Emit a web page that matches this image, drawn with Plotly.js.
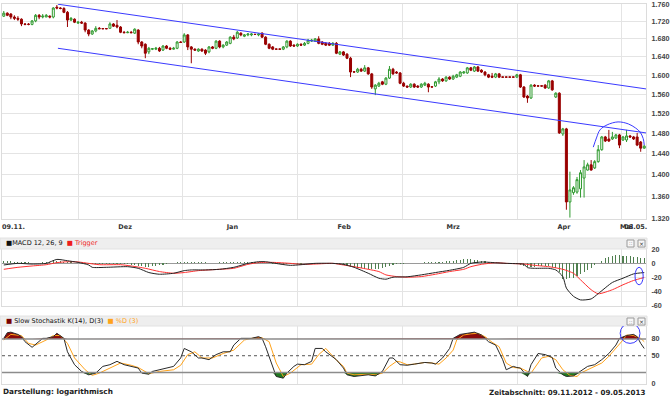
<!DOCTYPE html>
<html>
<head>
<meta charset="utf-8">
<script src="https://cdn.plot.ly/plotly-3.0.1.min.js"></script>
<style>
html,body{margin:0;padding:0;background:#ffffff;}
#chart{width:670px;height:396px;}
</style>
</head>
<body>
<div id="chart"></div>
<script>
// ---------- Kursdaten: ein Wert je Kalendertag, Index 0 = 09.11.2012 ----------
const openP = [
1.732,1.739,1.737,1.730,1.727,1.725,1.714,1.7135,1.713,1.721,
1.734,1.730,1.730,1.732,1.730,1.753,1.751,1.750,1.741,1.723,
1.725,1.716,1.718,1.716,1.700,1.691,1.698,1.704,1.7035,1.7035,
1.704,1.714,1.711,1.707,1.695,1.694,1.695,1.693,1.700,1.673,
1.668,1.651,1.657,1.657,1.659,1.655,1.664,1.659,1.657,1.659,
1.673,1.673,1.689,1.662,1.657,1.653,1.657,1.655,1.651,1.662,
1.659,1.675,1.662,1.666,1.670,1.684,1.682,1.693,1.686,1.689,
1.689,1.6905,1.689,1.693,1.684,1.668,1.662,1.6575,1.6575,1.657,
1.662,1.675,1.666,1.664,1.668,1.666,1.670,1.675,1.675,1.680,
1.673,1.670,1.670,1.666,1.670,1.646,1.651,1.646,1.637,1.6075,
1.607,1.613,1.609,1.616,1.603,1.571,1.577,1.586,1.581,1.594,
1.613,1.607,1.605,1.583,1.577,1.575,1.581,1.577,1.575,1.579,
1.581,1.5755,1.577,1.586,1.592,1.588,1.596,1.592,1.596,1.598,
1.605,1.605,1.616,1.609,1.618,1.611,1.607,1.601,1.598,1.596,
1.603,1.5965,1.5965,1.5965,1.5965,1.596,1.601,1.575,1.556,1.552,
1.579,1.5775,1.5775,1.579,1.573,1.588,1.554,1.562,1.479,1.489,
1.350,1.367,1.368,1.374,1.394,1.409,1.419,1.413,1.425,1.448,
1.473,1.469,1.469,1.471,1.477,1.467,1.467,1.475,1.473,1.473,
1.463,1.451];
const highP = [
1.744,1.741,1.739,1.734,1.732,1.727,1.716,1.716,1.723,1.737,
1.737,1.737,1.737,1.734,1.753,1.758,1.753,1.753,1.744,1.730,
1.727,1.721,1.721,1.718,1.702,1.700,1.709,1.707,1.704,1.704,
1.718,1.716,1.723,1.709,1.698,1.698,1.698,1.704,1.702,1.675,
1.670,1.662,1.659,1.662,1.662,1.666,1.666,1.662,1.662,1.675,
1.675,1.693,1.691,1.664,1.659,1.659,1.659,1.657,1.664,1.664,
1.677,1.677,1.668,1.675,1.686,1.689,1.698,1.695,1.691,1.693,
1.693,1.691,1.693,1.695,1.686,1.670,1.664,1.658,1.658,1.664,
1.677,1.677,1.668,1.670,1.670,1.673,1.680,1.680,1.682,1.686,
1.675,1.673,1.673,1.673,1.673,1.653,1.653,1.648,1.640,1.608,
1.616,1.616,1.622,1.618,1.605,1.581,1.586,1.588,1.596,1.620,
1.616,1.609,1.607,1.586,1.578,1.583,1.583,1.579,1.583,1.586,
1.583,1.576,1.588,1.596,1.594,1.598,1.598,1.601,1.603,1.609,
1.609,1.618,1.618,1.620,1.620,1.613,1.609,1.603,1.605,1.605,
1.605,1.597,1.597,1.597,1.597,1.603,1.603,1.577,1.558,1.581,
1.581,1.578,1.578,1.581,1.590,1.590,1.564,1.564,1.491,1.491,
1.406,1.379,1.396,1.409,1.428,1.423,1.428,1.428,1.457,1.475,
1.475,1.487,1.483,1.479,1.479,1.475,1.487,1.477,1.475,1.481,
1.465,1.457];
const lowP = [
1.730,1.732,1.725,1.723,1.721,1.709,1.711,1.711,1.711,1.718,
1.725,1.727,1.730,1.727,1.727,1.748,1.748,1.739,1.707,1.721,
1.716,1.714,1.714,1.695,1.686,1.689,1.695,1.702,1.702,1.702,
1.704,1.707,1.704,1.693,1.693,1.693,1.693,1.691,1.668,1.659,
1.637,1.646,1.655,1.655,1.651,1.653,1.657,1.655,1.656,1.657,
1.671,1.671,1.655,1.626,1.653,1.651,1.651,1.644,1.648,1.657,
1.657,1.659,1.659,1.664,1.668,1.677,1.680,1.686,1.684,1.686,
1.686,1.689,1.686,1.682,1.666,1.657,1.655,1.656,1.656,1.655,
1.659,1.662,1.662,1.662,1.664,1.664,1.668,1.673,1.673,1.668,
1.666,1.664,1.664,1.664,1.646,1.644,1.642,1.635,1.596,1.606,
1.605,1.607,1.607,1.601,1.571,1.558,1.575,1.579,1.579,1.592,
1.601,1.603,1.581,1.575,1.573,1.573,1.573,1.573,1.573,1.577,
1.564,1.574,1.575,1.581,1.586,1.586,1.590,1.590,1.594,1.596,
1.603,1.603,1.609,1.607,1.607,1.605,1.598,1.594,1.594,1.594,
1.594,1.595,1.595,1.595,1.595,1.594,1.573,1.552,1.542,1.550,
1.575,1.576,1.576,1.571,1.571,1.567,1.552,1.479,1.475,1.336,
1.322,1.363,1.365,1.358,1.358,1.408,1.408,1.411,1.423,1.446,
1.463,1.463,1.467,1.469,1.451,1.465,1.463,1.471,1.467,1.455,
1.444,1.450];
const closeP = [
1.739,1.734,1.730,1.727,1.725,1.714,1.713,1.713,1.721,1.734,
1.730,1.732,1.734,1.730,1.751,1.751,1.750,1.741,1.723,1.727,
1.718,1.718,1.716,1.700,1.691,1.698,1.704,1.703,1.703,1.703,
1.714,1.709,1.707,1.695,1.694,1.695,1.694,1.702,1.673,1.664,
1.648,1.659,1.658,1.659,1.653,1.664,1.659,1.657,1.659,1.673,
1.672,1.689,1.662,1.657,1.655,1.657,1.653,1.648,1.662,1.659,
1.675,1.662,1.666,1.673,1.684,1.680,1.695,1.689,1.689,1.691,
1.691,1.690,1.691,1.684,1.668,1.659,1.657,1.657,1.657,1.662,
1.675,1.664,1.664,1.668,1.666,1.670,1.677,1.677,1.680,1.670,
1.668,1.666,1.666,1.670,1.648,1.651,1.644,1.637,1.607,1.607,
1.613,1.609,1.616,1.603,1.575,1.579,1.583,1.581,1.594,1.613,
1.603,1.605,1.583,1.577,1.575,1.581,1.575,1.575,1.581,1.583,
1.575,1.575,1.586,1.592,1.588,1.596,1.592,1.598,1.601,1.607,
1.607,1.616,1.611,1.618,1.609,1.607,1.601,1.596,1.596,1.603,
1.596,1.596,1.596,1.596,1.596,1.601,1.575,1.554,1.552,1.579,
1.577,1.577,1.577,1.573,1.588,1.569,1.562,1.481,1.489,1.350,
1.372,1.376,1.391,1.404,1.415,1.419,1.409,1.425,1.448,1.473,
1.465,1.465,1.473,1.477,1.457,1.473,1.475,1.473,1.469,1.457,
1.451,1.455];
const dayIdx = closeP.map((_, i) => i);

// ---------- Trendkanal und Markierung ----------
const channelX = [15.3, 181.5];
const channelUpper = [1.760, 1.571];
const channelLower = [1.659, 1.481];
const arcX = [166.6, 167.5, 168.5, 170.5, 173.6, 176.5, 178.5, 179.8, 180.7, 181.0];
const arcY = [1.453, 1.471, 1.487, 1.497, 1.503, 1.499, 1.491, 1.483, 1.470, 1.457];

// ---------- MACD 12, 26, 9 ----------
const macdT = [0,4,8,12,15,18,21,24,25,29,35,38,41,44,48,51,53,57,61,65,69,72,74,78,81,84,88,93,96,99,103,106,108,110,114,118,122,126,130,132,135,139,142,147,148,150,154,156,158,159,161,163,166,168,172,175,178,181];
const macdV = [-2.3,0,-1,0,5.6,3.7,1.4,-2.3,-5.6,-5.6,-4.7,-7,-13,-15.4,-14,-10.3,-9.3,-9.3,-8.4,-5.6,0,2.3,2.3,-1,-2.8,-1.9,0,0,-1.4,-5.6,-14,-21,-22.4,-19.6,-19,-16.3,-13,-9.8,-5.6,0,1.9,0.9,0,-1.4,-6,-7,-7,-9.3,-18.7,-35,-46.6,-51.7,-50.3,-42.8,-27,-21,-14.9,-13];
const trigT = [0,4,8,12,15,18,21,24,27,33,36,40,44,48,51,55,61,65,69,72,76,81,84,88,93,96,99,103,106,108,111,114,118,122,126,130,132,135,139,142,147,150,154,158,161,163,166,168,172,175,178,181];
const trigV = [-8.4,-5.6,-3.7,-1.9,1,2.3,2,0,-1.9,-1.9,-3.7,-7,-11.6,-14,-13,-10.3,-8.4,-7,-1.4,1,1.4,0,-1.4,-1,0,-2.3,-4.7,-8.4,-11.6,-16.3,-18.7,-19.6,-18.7,-15.4,-11.6,-8.4,-4.7,-1.4,0.9,0,-1,-2.8,-4.7,-8.4,-14,-23.3,-37.3,-43,-37.3,-30.3,-24.2,-20];
const histV = [
3,3,3,2.5,2, 2,1.5,1.5,1,1, 1,1.5,2,2.5,3, 3.5,3,2.5,2,1.5,
1,0.5,0,-0.5,-1, -1.5,-1.5,-1.5,-1,-1, -1,-1,-1,-1,-1, -1.5,-2,-3,-3.5,-4,
-4.5,-4.5,-4,-3.5,-3, -2,-1,0,1,1.5, 2,2,2,2,1.5, 1.5,1.5,1.5,1,1,
1,1.5,1.5,2,2, 2,2.5,2.5,2.5,2, 2,2,1.5,1,0.5, 0,-0.5,-1,-1.5,-1.5,
-1.5,-1.5,-1,-1,-0.5, 0,0.5,0.5,1,1, 0.5,0.5,0,0,-0.5, -1,-2,-3,-4,-5,
-6,-7,-7.5,-8,-8.5, -8.5,-8,-7,-5.5,-4, -2.5,-1.5,-1,-0.5,0, 0.5,0.5,1,1,1.5,
1.5,1.5,2,2,2.5, 3,3.5,4,4.5,5, 5.5,5.5,5.5,5,4.5, 3.5,3,2,1.5,1,
0,0,-0.5,-0.5,-1, -1.5,-2.5,-4,-5,-5, -4.5,-4,-4,-4,-4, -5,-6,-12,-22,-22,
-21,-20,-18,-15,-12, -9,-6,-3,1,4, 7,9,10.5,11.5,11.5, 11,10.5,10,9.5,8.5,
8,7.5];
const macdEllipse = {x: [178.4, 180.7], y: [-30.3, -5.6]};

// ---------- Slow Stochastik K(14), D(3) ----------
const stochKT = [0,1,2,4,5,6,8,9,11,12,14,15,17,18,20,22,24,26,28,30,32,34,36,38,39,41,42,44,46,48,50,51,53,55,56,58,60,62,64,65,67,69,70,72,73,74,76,77,79,80,82,83,85,87,88,90,91,93,94,96,97,99,101,103,105,107,109,110,112,114,116,119,121,122,124,126,127,129,131,133,135,137,139,141,142,144,145,146,148,149,151,153,155,156,158,159,161,163,165,167,169,171,173,174,176,178,179,180,181];
const stochK = [81,91,92,88,84,75,65,70,81,81,84,90,81,57,34,22,16,19,31,34,40,34,31,28,19,17,22,25,27,31,46,63,57,46,46,43,52,57,57,69,81,81,81,84,81,66,31,13,10,19,31,35,34,40,63,63,57,48,43,28,16,13,15,16,14,22,46,46,34,33,35,38,37,35,46,63,81,88,90,92,87,75,69,43,25,31,29,28,13,34,54,52,47,28,16,13,14,22,31,34,43,54,69,81,86,88,84,72,63];
const stochDT = [0,2,5,7,9,12,14,16,18,20,23,25,27,30,33,36,38,41,44,48,50,52,54,56,59,62,65,68,70,73,75,77,79,81,84,87,89,91,93,94,96,97,99,101,103,105,107,109,111,112,114,116,119,121,123,125,127,128,130,132,134,136,138,140,142,144,146,148,149,152,154,156,158,160,162,163,165,167,169,171,173,175,176,178,180,181];
const stochD = [78,88,86,72,69,78,86,86,72,46,25,15,19,28,37,33,29,18,22,25,33,52,57,46,46,54,60,78,81,82,75,37,13,19,34,35,52,63,50,42,31,19,16,17,17,16,19,31,40,39,34,35,38,37,35,46,60,78,87,89,90,84,74,66,37,29,28,22,19,46,49,43,25,15,13,19,25,31,37,49,63,78,87,86,81,75];
const stochCircle = {x: [174.2, 179.8], y: [72, 108]};
const stochLevels = {high: 80, mid: 50, low: 20};

// ---------- Achsenbeschriftung ----------
const dateTickIdx = [2.75, 34.3, 64.6, 96.2, 127.0, 158.3, 176.0, 178.6];
const dateTickText = ['09.11.', 'Dez', 'Jan', 'Feb', 'Mrz', 'Apr', 'Mai', '08.05.'];
const gridIdx = [20.98, 50.4, 82.9, 112.6, 145.1, 174.5];
const priceTicks = [1.32, 1.36, 1.40, 1.44, 1.48, 1.52, 1.56, 1.60, 1.64, 1.68, 1.72, 1.76];
const priceTickText = ['1.320','1.360','1.400','1.440','1.480','1.520','1.560','1.600','1.640','1.680','1.720','1.760'];
const macdTicks = [20, 0, -20, -40, -60];
const macdTickText = ['20', '0', '-20', '-40', '-60'];
const stochTicks = [0, 50, 80];
const stochTickText = ['0', '50', '80'];

// ---------- Darstellung ----------
const FONT = 'DejaVu Sans';
const GRID = '#e4e4e4';
const BLUE = '#3a3aff';
const UP = '#2f9a2f';
const DOWN = '#990000';

const traces = [
  {type: 'candlestick', x: dayIdx, open: openP, high: highP, low: lowP, close: closeP,
   xaxis: 'x', yaxis: 'y', whiskerwidth: 0, hoverinfo: 'skip', showlegend: false,
   increasing: {line: {color: UP, width: 1}, fillcolor: '#ffffff'},
   decreasing: {line: {color: DOWN, width: 1}, fillcolor: DOWN}},
  {type: 'scatter', mode: 'lines', x: channelX, y: channelUpper, xaxis: 'x', yaxis: 'y',
   line: {color: BLUE, width: 1}, hoverinfo: 'skip'},
  {type: 'scatter', mode: 'lines', x: channelX, y: channelLower, xaxis: 'x', yaxis: 'y',
   line: {color: BLUE, width: 1}, hoverinfo: 'skip'},
  {type: 'scatter', mode: 'lines', x: arcX, y: arcY, xaxis: 'x', yaxis: 'y',
   line: {color: BLUE, width: 1, shape: 'spline'}, hoverinfo: 'skip'},

  {type: 'bar', x: dayIdx, y: histV, xaxis: 'x2', yaxis: 'y2', width: 0.3,
   marker: {color: '#4f7f4f', line: {width: 0}}, hoverinfo: 'skip'},
  {type: 'scatter', mode: 'lines', x: trigT, y: trigV, xaxis: 'x2', yaxis: 'y2',
   line: {color: '#ff3030', width: 1, shape: 'spline', smoothing: 0.6}, hoverinfo: 'skip'},
  {type: 'scatter', mode: 'lines', x: macdT, y: macdV, xaxis: 'x2', yaxis: 'y2',
   line: {color: '#222222', width: 1, shape: 'spline', smoothing: 0.6}, hoverinfo: 'skip'},

  {type: 'scatter', mode: 'lines', x: stochKT, y: stochKT.map(() => stochLevels.high), xaxis: 'x3', yaxis: 'y3',
   line: {width: 0}, hoverinfo: 'skip'},
  {type: 'scatter', mode: 'lines', x: stochKT, y: stochK.map(v => Math.max(v, stochLevels.high)), xaxis: 'x3', yaxis: 'y3',
   line: {width: 0}, fill: 'tonexty', fillcolor: '#8b0a0a', hoverinfo: 'skip'},
  {type: 'scatter', mode: 'lines', x: stochKT, y: stochKT.map(() => stochLevels.low), xaxis: 'x3', yaxis: 'y3',
   line: {width: 0}, hoverinfo: 'skip'},
  {type: 'scatter', mode: 'lines', x: stochKT, y: stochK.map(v => Math.min(v, stochLevels.low)), xaxis: 'x3', yaxis: 'y3',
   line: {width: 0}, fill: 'tonexty', fillcolor: '#1f7a1f', hoverinfo: 'skip'},
  {type: 'scatter', mode: 'lines', x: stochDT, y: stochD, xaxis: 'x3', yaxis: 'y3',
   line: {color: '#ffa31a', width: 1}, hoverinfo: 'skip'},
  {type: 'scatter', mode: 'lines', x: stochKT, y: stochK, xaxis: 'x3', yaxis: 'y3',
   line: {color: '#2a2a2a', width: 1}, hoverinfo: 'skip'}
];

const tickFont = {family: 'Liberation Sans', size: 7.2, color: '#444444', weight: 'bold'};
const baseX = {
  range: [-0.5, 181.5], showgrid: false, zeroline: false, ticks: '', fixedrange: true,
  rangeslider: {visible: false}, showline: true, mirror: true, linecolor: '#dcdcdc', linewidth: 1,
  minor: {tickmode: 'array', tickvals: gridIdx, showgrid: true, gridcolor: GRID, gridwidth: 1, ticks: ''}
};
const baseY = {side: 'right', ticks: '', fixedrange: true, zeroline: false, showline: true, mirror: true,
  linecolor: '#dcdcdc', linewidth: 1, tickfont: tickFont, ticklabelstandoff: 3, ticklabeloverflow: 'allow',
  gridcolor: GRID, tickmode: 'array'};

const px2py = p => (396 - p) / 396;   // Seitenpixel -> paper y
const px2px = p => (p - 2) / 644;     // Seitenpixel -> paper x

function headerBar(top, bottom) {
  return {type: 'rect', xref: 'paper', yref: 'paper', x0: px2px(0), x1: px2px(647),
    y0: px2py(bottom), y1: px2py(top), fillcolor: '#eeeeee', line: {color: '#e2e2e2', width: 1}};
}
function iconBox(x0, top) {
  return {type: 'rect', xref: 'paper', yref: 'paper', x0: px2px(x0), x1: px2px(x0 + 7),
    y0: px2py(top + 7), y1: px2py(top), fillcolor: '#f7f7f7', line: {color: '#9a9a9a', width: 1}};
}

const layout = {
  width: 670, height: 396,
  margin: {l: 2, r: 24, t: 0, b: 0},
  paper_bgcolor: '#ffffff', plot_bgcolor: '#ffffff',
  showlegend: false, bargap: 0, boxgap: 0.2,
  font: {family: FONT, size: 7, color: '#333333'},
  xaxis: Object.assign({}, baseX, {anchor: 'y', tickmode: 'array', tickvals: dateTickIdx, ticktext: dateTickText,
    tickangle: 0, tickfont: {family: FONT, size: 6.5, color: '#333333', weight: 'bold'}, ticklabelstandoff: 1,
    ticklabeloverflow: 'allow'}),
  xaxis2: Object.assign({}, baseX, {anchor: 'y2', matches: 'x', showticklabels: false}),
  xaxis3: Object.assign({}, baseX, {anchor: 'y3', matches: 'x', showticklabels: false}),
  yaxis: Object.assign({}, baseY, {anchor: 'x', domain: [px2py(219), px2py(4)], type: 'log',
    range: [Math.log10(1.3195), Math.log10(1.7605)], tickvals: priceTicks, ticktext: priceTickText, showgrid: true}),
  yaxis2: Object.assign({}, baseY, {anchor: 'x2', domain: [px2py(306), px2py(249)],
    range: [-60.3, 20.3], tickvals: macdTicks, ticktext: macdTickText, showgrid: true,
    zeroline: true, zerolinecolor: '#9a9a9a', zerolinewidth: 1}),
  yaxis3: Object.assign({}, baseY, {anchor: 'x3', domain: [px2py(384), px2py(326)],
    range: [-0.4, 103], tickvals: stochTicks, ticktext: stochTickText, showgrid: false}),
  shapes: [
    headerBar(238, 249), headerBar(316, 326),
    iconBox(627, 240), iconBox(638, 240), iconBox(627, 318), iconBox(638, 318),
    {type: 'line', xref: 'x3', yref: 'y3', x0: -0.5, x1: 181.5, y0: stochLevels.high, y1: stochLevels.high,
     line: {color: '#8c8c8c', width: 1.5}, layer: 'above'},
    {type: 'line', xref: 'x3', yref: 'y3', x0: -0.5, x1: 181.5, y0: stochLevels.low, y1: stochLevels.low,
     line: {color: '#8c8c8c', width: 1.5}, layer: 'above'},
    {type: 'line', xref: 'x3', yref: 'y3', x0: -0.5, x1: 181.5, y0: stochLevels.mid, y1: stochLevels.mid,
     line: {color: '#555555', width: 1, dash: 'dot'}, layer: 'between'},
    {type: 'circle', xref: 'x2', yref: 'y2', x0: macdEllipse.x[0], x1: macdEllipse.x[1],
     y0: macdEllipse.y[0], y1: macdEllipse.y[1], line: {color: BLUE, width: 1}},
    {type: 'circle', xref: 'x3', yref: 'y3', x0: stochCircle.x[0], x1: stochCircle.x[1],
     y0: stochCircle.y[0], y1: stochCircle.y[1], line: {color: BLUE, width: 1}}
  ],
  annotations: [
    {xref: 'paper', yref: 'paper', x: px2px(4), y: px2py(243.5), xanchor: 'left', yanchor: 'middle', showarrow: false,
     font: {family: FONT, size: 6.5, color: '#111111'},
     text: '<span style="color:#111111">■</span>MACD 12, 26, 9  <span style="color:#ee1c1c">■ Trigger</span>'},
    {xref: 'paper', yref: 'paper', x: px2px(4), y: px2py(321), xanchor: 'left', yanchor: 'middle', showarrow: false,
     font: {family: FONT, size: 6.5, color: '#111111'},
     text: '<span style="color:#7a0000">■</span> Slow Stochastik K(14), D(3)  <span style="color:#ffa31a">■ %D (3)</span>'},
    {xref: 'paper', yref: 'paper', x: px2px(630.5), y: px2py(243.5), showarrow: false, xanchor: 'center', yanchor: 'middle',
     font: {family: FONT, size: 5, color: '#333333'}, text: '::'},
    {xref: 'paper', yref: 'paper', x: px2px(641.5), y: px2py(243.5), showarrow: false, xanchor: 'center', yanchor: 'middle',
     font: {family: FONT, size: 6, color: '#333333'}, text: '×'},
    {xref: 'paper', yref: 'paper', x: px2px(630.5), y: px2py(321.5), showarrow: false, xanchor: 'center', yanchor: 'middle',
     font: {family: FONT, size: 5, color: '#333333'}, text: '::'},
    {xref: 'paper', yref: 'paper', x: px2px(641.5), y: px2py(321.5), showarrow: false, xanchor: 'center', yanchor: 'middle',
     font: {family: FONT, size: 6, color: '#333333'}, text: '×'},
    {xref: 'paper', yref: 'paper', x: px2px(1), y: px2py(391), xanchor: 'left', yanchor: 'middle', showarrow: false,
     font: {family: FONT, size: 7.3, color: '#222222', weight: 'bold'}, text: 'Darstellung: logarithmisch'},
    {xref: 'paper', yref: 'paper', x: px2px(647), y: px2py(392), xanchor: 'right', yanchor: 'middle', showarrow: false,
     font: {family: FONT, size: 7.1, color: '#222222', weight: 'bold'}, text: 'Zeitabschnitt: 09.11.2012 - 09.05.2013'}
  ]
};

Plotly.newPlot('chart', traces, layout, {staticPlot: true, displayModeBar: false});
</script>
</body>
</html>
